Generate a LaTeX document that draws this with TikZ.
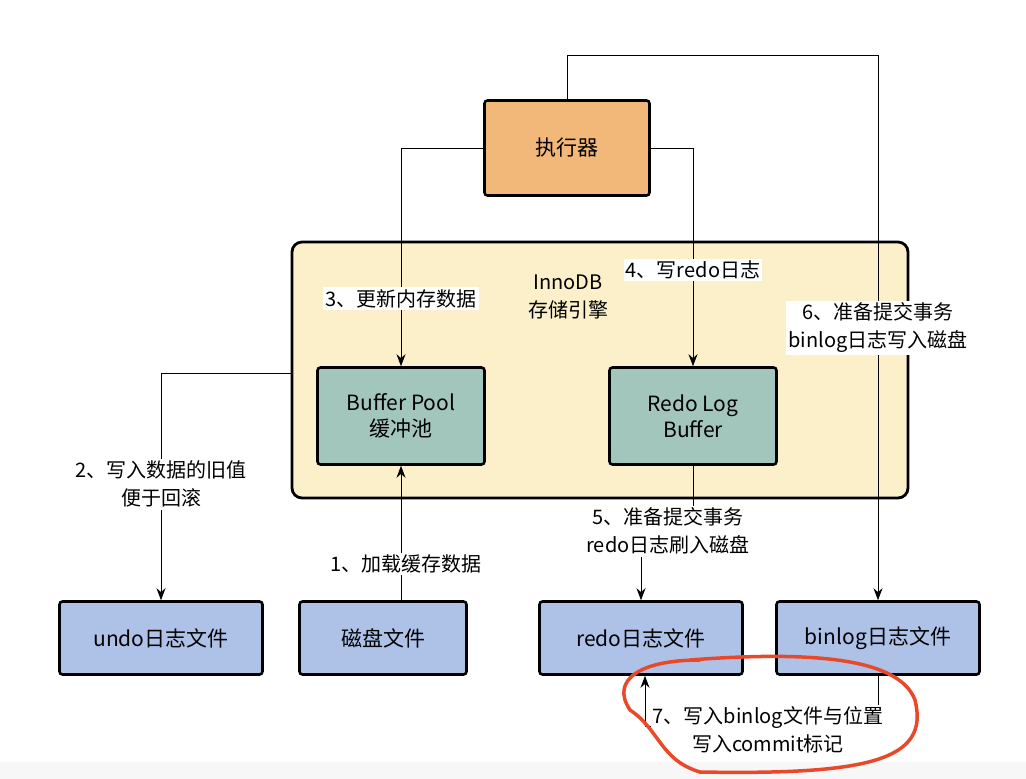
\documentclass[tikz,border=0pt]{standalone}
\usepackage{fontspec}
\setmainfont{Noto Sans CJK SC}
\usetikzlibrary{arrows.meta,positioning}
\definecolor{exefill}{HTML}{F2B87A}
\definecolor{innofill}{HTML}{FCF0CB}
\definecolor{buffill}{HTML}{A2C6BB}
\definecolor{filefill}{HTML}{AEC2E8}
\definecolor{markred}{HTML}{E8492A}
\tikzstyle{box} = [draw,line width=2.6pt,rounded corners=3pt,align=center,font=\fontsize{21}{26}\selectfont]
\tikzstyle{file} = [box,fill=filefill,minimum width=203pt,minimum height=73pt]
\tikzstyle{buf} = [box,fill=buffill,minimum width=167pt,minimum height=97pt]
\tikzstyle{steplabel} = [fill=white,inner sep=2pt,align=center,font=\fontsize{20}{28}\selectfont]
\tikzstyle{flow} = [line width=0.8pt,-{Stealth[length=12pt,width=9pt]}]

\begin{document}
\begin{tikzpicture}[x=1pt,y=-1pt]
\useasboundingbox (0,0) rectangle (1026,779);
\fill[black!3] (0,762) rectangle (1026,779);

\node[box,fill=innofill,line width=2.8pt,rounded corners=10pt,minimum width=616pt,minimum height=256pt] (inno) at (600,370) {};
\node[align=center,font=\fontsize{20}{28}\selectfont] (innotxt) at (568,297) {InnoDB\\存储引擎};

\node[box,fill=exefill,minimum width=165pt,minimum height=95pt] (exe) at (567,148) {执行器};
\node[buf] (bp) at (401,416) {Buffer Pool\\缓冲池};
\node[buf] (rlb) at (693,416) {Redo Log\\Buffer};

\node[file] (undo) at (161,638) {undo日志文件};
\node[file,minimum width=167pt] (disk) at (383,638) {磁盘文件};
\node[file] (redo) at (641,638) {redo日志文件};
\node[file] (binlog) at (878,638) {binlog日志文件};

\coordinate (top) at (567,55);
\coordinate (binturn) at (878,726);

% arrows
\draw[flow] (exe.west) -| (bp.north) node[steplabel,pos=0.845] {3、更新内存数据};
\draw[flow] (exe.east) -| (rlb.north) node[steplabel,pos=0.78] {4、写redo日志};
\draw[flow] (exe.north) |- (top) -| (binlog.north) node[steplabel,pos=0.75] {6、准备提交事务\\binlog日志写入磁盘};
\draw[flow] (inno.west |- 0,373) -| (undo.north) node[steplabel,pos=0.745] {2、写入数据的旧值\\便于回滚};
\draw[flow] (disk.north -| bp.south) -- (bp.south) node[steplabel,pos=0.27,xshift=5pt] {1、加载缓存数据};
\draw[line width=0.8pt] (rlb.south) -- ++(0,40) coordinate (r5);
\node[steplabel,below=0pt of r5,xshift=-25pt] (l5) {5、准备提交事务\\redo日志刷入磁盘};
\draw[flow] (l5.south -| redo.north) -- (redo.north);
\draw[flow] (binlog.south) -- (binturn) -| ([xshift=4pt]redo.south);
\node[steplabel] (l7) at (768,730) {7、写入binlog文件与位置\\写入commit标记};

% hand-drawn mark
\draw[markred,line width=3.5pt,line cap=round]
  (690,660) .. controls (820,650) and (900,660) .. (915,700)
  .. controls (930,760) and (870,775) .. (700,772)
  .. controls (660,760) and (660,730) .. (630,710)
  .. controls (610,680) and (640,660) .. (700,660);
\end{tikzpicture}
\end{document}
